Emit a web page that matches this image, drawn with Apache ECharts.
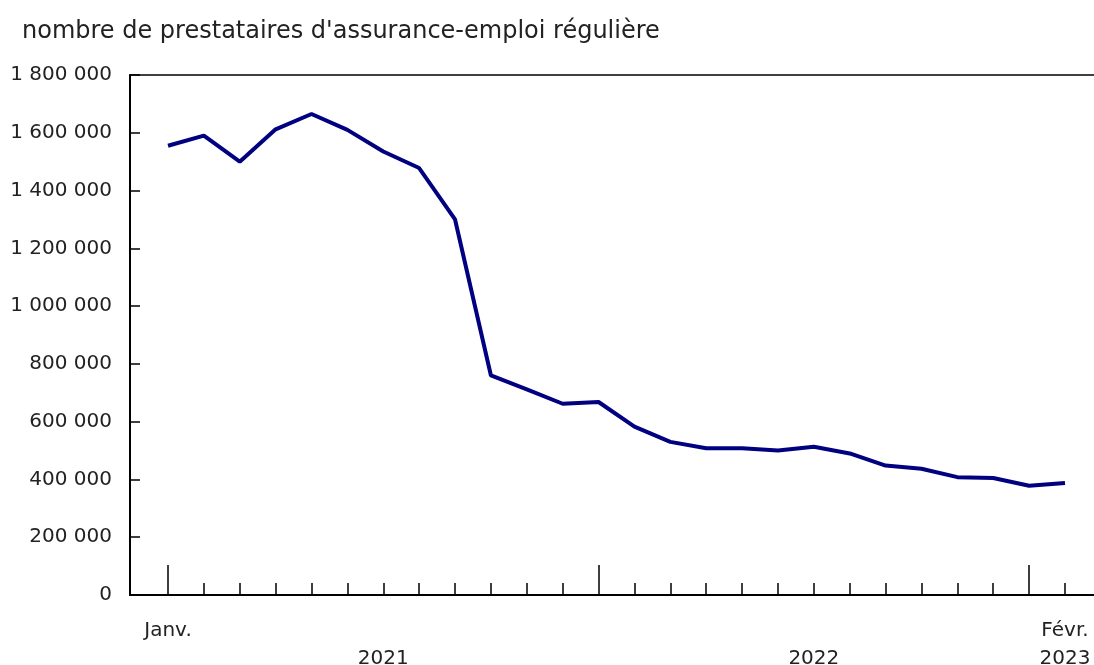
<!DOCTYPE html>
<html>
<head>
<meta charset="utf-8">
<script src="https://cdn.jsdelivr.net/npm/echarts@6/dist/echarts.min.js"></script>
<style>html,body{margin:0;padding:0;background:#fff}#c{width:1094px;height:665px}</style>
</head>
<body>
<div id="c"></div>
<script>
const title = "nombre de prestataires d'assurance-emploi régulière";
const categories = ['Janv. 2021','Févr. 2021','Mars 2021','Avr. 2021','Mai 2021','Juin 2021','Juil. 2021','Août 2021','Sept. 2021','Oct. 2021','Nov. 2021','Déc. 2021',
  'Janv. 2022','Févr. 2022','Mars 2022','Avr. 2022','Mai 2022','Juin 2022','Juil. 2022','Août 2022','Sept. 2022','Oct. 2022','Nov. 2022','Déc. 2022',
  'Janv. 2023','Févr. 2023'];
const claimants = [1555000,1590000,1500000,1612000,1665000,1610000,1535000,1478000,1300000,760000,712000,662000,
  668000,583000,530000,508000,508000,500000,513000,490000,448000,437000,408000,405000,378000,388000];
const yTicks = [0,200000,400000,600000,800000,1000000,1200000,1400000,1600000,1800000];

const fmt = v => String(v).replace(/\B(?=(\d{3})+(?!\d))/g, ' ');
const last = categories.length - 1;
// year label: centred between first month of that year and the next year's first month (clamped)
const yearIdx = [];
categories.forEach((c, i) => { if (c.startsWith('Janv.')) yearIdx.push(Math.min(i + 6, last)); });
const font = 'DejaVu Sans';
const chart = echarts.init(document.getElementById('c'));
chart.setOption({
  animation: false,
  textStyle: {fontFamily: font},
  title: {text: title, left: 17, top: 15, textStyle: {fontFamily: font, fontSize: 24, fontWeight: 'normal', color: '#222'}},
  grid: [
    {left: 130, right: 0, top: 75, bottom: 70, containLabel: false, outerBoundsMode: 'none'},
    {left: 168, right: 29, top: 75, bottom: 70, containLabel: false, outerBoundsMode: 'none'}
  ],
  xAxis: [
    {gridIndex: 0, type: 'value', position: 'bottom', min: 0, max: 1,
     axisLine: {show: true, onZero: false, lineStyle: {color: '#000', width: 2}}, axisTick: {show: false}, axisLabel: {show: false}, splitLine: {show: false}},
    {gridIndex: 0, type: 'value', position: 'top', min: 0, max: 1,
     axisLine: {show: true, onZero: false, lineStyle: {color: '#000', width: 1.5}}, axisTick: {show: false}, axisLabel: {show: false}, splitLine: {show: false}},
    {gridIndex: 1, type: 'category', position: 'bottom', data: categories, boundaryGap: false,
     axisLine: {show: false, onZero: false}, splitLine: {show: false},
     axisTick: {show: true, inside: true, length: 12, interval: 0, lineStyle: {color: '#000', width: 1.5}},
     axisLabel: {show: true, interval: (i) => i === 0 || i === last, formatter: v => v.split(' ')[0],
       margin: 26, fontSize: 20, color: '#222', fontFamily: font}},
    {gridIndex: 1, type: 'category', position: 'bottom', data: categories, boundaryGap: false,
     axisLine: {show: false, onZero: false}, splitLine: {show: false},
     axisTick: {show: true, inside: true, length: 30, interval: (i, v) => v.startsWith('Janv.'), lineStyle: {color: '#000', width: 1.5}},
     axisLabel: {show: true, interval: (i) => yearIdx.includes(i), formatter: v => v.split(' ')[1],
       margin: 54, fontSize: 20, color: '#222', fontFamily: font}}
  ],
  yAxis: [
    {gridIndex: 0, type: 'value', position: 'left', min: yTicks[0], max: yTicks[yTicks.length - 1], interval: yTicks[1] - yTicks[0],
     axisLine: {show: true, onZero: false, lineStyle: {color: '#000', width: 2}},
     axisTick: {show: true, inside: true, length: 10, lineStyle: {color: '#000', width: 1.5}},
     axisLabel: {formatter: fmt, margin: 18, fontSize: 20, color: '#222', fontFamily: font},
     splitLine: {show: false}},
    {gridIndex: 1, type: 'value', min: yTicks[0], max: yTicks[yTicks.length - 1], show: false}
  ],
  series: [{
    type: 'line', xAxisIndex: 2, yAxisIndex: 1, data: claimants,
    showSymbol: false, symbol: 'none',
    lineStyle: {color: '#000080', width: 4}
  }]
});
</script>
</body>
</html>
